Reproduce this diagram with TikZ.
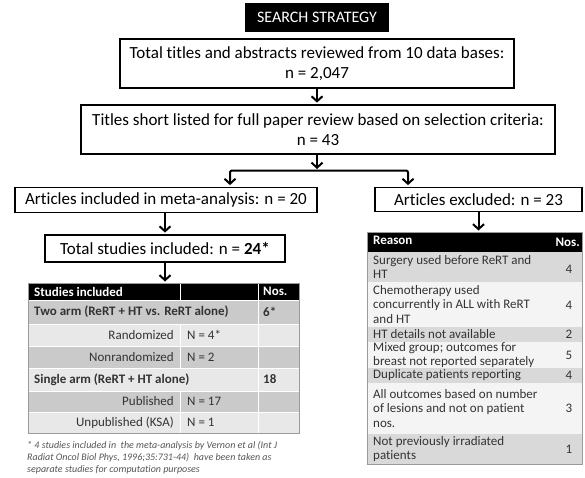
\documentclass[tikz,border=0pt]{standalone}
\usepackage{fontspec}
\setmainfont{Carlito}[Ligatures={NoCommon}]
\usetikzlibrary{arrows.meta}
\definecolor{rowdark}{HTML}{CACACA}
\definecolor{rowlight}{HTML}{E8E8E8}
\definecolor{rgray}{HTML}{D9D9D9}
\definecolor{rwhite}{HTML}{F4F4F4}
\definecolor{txt}{HTML}{333333}
\definecolor{fnote}{HTML}{555555}
\definecolor{tborder}{HTML}{9A9A9A}
\begin{document}
\begin{tikzpicture}[x=1pt,y=-1pt,
  box/.style={draw=black,line width=1.8pt,fill=white,inner sep=0pt,align=center,
    font=\fontsize{17}{20}\selectfont},
  titlebox/.style={fill=black,text=white,inner sep=0pt,minimum width=144pt,minimum height=29pt,
    font=\fontsize{16}{19}\selectfont},
  arr/.style={line width=2pt,-{Straight Barb[length=5pt,width=11pt]},shorten >=1.5pt},
  arrboth/.style={line width=2pt,{Straight Barb[length=5pt,width=11pt]}-{Straight Barb[length=5pt,width=11pt]},
    shorten >=1.5pt,shorten <=1.5pt,rounded corners=2pt},
  tcell/.style={inner sep=0pt,text=txt,font=\fontsize{13}{15}\selectfont},
  tbold/.style={tcell,font=\fontsize{13}{15}\selectfont\bfseries},
  thead/.style={inner sep=0pt,text=white,font=\fontsize{13}{15}\selectfont\bfseries},
  rcell/.style={inner sep=0pt,text=txt,align=left,anchor=west,font=\fontsize{13}{14.8}\selectfont},
  rnum/.style={inner sep=0pt,text=txt,font=\fontsize{13}{15}\selectfont},
  sep/.style={white,line width=1pt}
]
\useasboundingbox (0,0) rectangle (585,477);

% top part
\node[titlebox] (title) at (317,17.5) {SEARCH STRATEGY};
\node[box,minimum width=394pt,minimum height=49pt] (box1) at (317,63.5)
  {Total titles and abstracts reviewed from 10 data bases:\\ n = 2,047};
\node[box,minimum width=474pt,minimum height=49pt] (box2) at (318,129.5)
  {Titles short listed for full paper review based on selection criteria:\\ n = 43};
\node[box,minimum width=302pt,minimum height=25pt] (inc) at (166,200)
  {Articles included in meta-analysis: n = 20};
\node[box,minimum width=207pt,minimum height=24pt] (exc) at (478.5,199.5)
  {Articles excluded: n = 23};
\node[box,minimum width=240pt,minimum height=27pt] (tot) at (165,248.5)
  {Total studies included: n = \textbf{24*}};

\coordinate (jn) at (317,170.5);
\coordinate (jl) at (230,170.5);
\coordinate (jr) at (408,170.5);

\draw[arr] (box1.south) -- (box1.south |- box2.north);
\draw[arr] (box2.south -| jn) -- (jn);
\draw[arrboth] (inc.north -| jl) -- (jl) -- (jr) -- (jr |- exc.north);
\draw[arr] (inc.south -| tot) -- (tot.north);

% ---------- left table ----------
\fill[black] (28,283) rectangle (299,300);
\fill[rowdark] (28,300) rectangle (299,324);
\fill[rowlight] (28,324) rectangle (299,346);
\fill[rowdark] (28,346) rectangle (299,368);
\fill[rowlight] (28,368) rectangle (299,391);
\fill[rowdark] (28,391) rectangle (299,412);
\fill[rowlight] (28,412) rectangle (299,433);
\draw[sep] (258,283) -- (258,433);
\draw[sep] (180,283) -- (180,300);
\draw[sep] (180,324) -- (180,368);
\draw[sep] (180,391) -- (180,433);
\foreach \yy in {300,324,346,368,391,412} \draw[white,line width=0.6pt] (28,\yy) -- (299,\yy);
\node[anchor=north west,minimum width=271pt,minimum height=150pt,inner sep=0pt,
  draw=tborder,line width=0.8pt] (ltab) at (28,283) {};
\draw[arr] (tot.south) -- (tot.south |- ltab.north);

\node[thead,anchor=west] (lh1) at (34,291.5) {Studies included};
\node[thead,anchor=west] (lh3) at (263,291.5) {Nos.};
\node[tbold,anchor=west] (l2a) at (34,312) {Two arm (ReRT + HT vs. ReRT alone)};
\node[tbold,anchor=west] (l2c) at (263,312) {6*};
\node[tcell,anchor=east] (l3a) at (174,335) {Randomized};
\node[tcell,anchor=west] (l3b) at (187,335) {N = 4*};
\node[tcell,anchor=east] (l4a) at (174,357) {Nonrandomized};
\node[tcell,anchor=west] (l4b) at (187,357) {N = 2};
\node[tbold,anchor=west] (l5a) at (34,379.5) {Single arm (ReRT + HT alone)};
\node[tbold,anchor=west] (l5c) at (263,379.5) {18};
\node[tcell,anchor=east] (l6a) at (174,401.5) {Published};
\node[tcell,anchor=west] (l6b) at (187,401.5) {N = 17};
\node[tcell,anchor=east] (l7a) at (174,422.5) {Unpublished (KSA)};
\node[tcell,anchor=west] (l7b) at (187,422.5) {N = 1};

\node[anchor=north west,inner sep=0pt,align=left,text=fnote,
  font=\fontsize{10}{11.8}\selectfont\itshape] (fn) at (27,441)
  {* 4 studies included in \ the meta-analysis by Vernon et al (Int J\\
   Radiat Oncol Biol Phys, 1996;35:731-44) \ have been taken as\\
   separate studies for computation purposes};

% ---------- right table ----------
\fill[black] (367,232) rectangle (582,252);
\fill[rgray] (367,252) rectangle (582,282);
\fill[rwhite] (367,282) rectangle (582,327);
\fill[rgray] (367,327) rectangle (582,342);
\fill[rwhite] (367,342) rectangle (582,368);
\fill[rgray] (367,368) rectangle (582,383);
\fill[rwhite] (367,383) rectangle (582,434);
\fill[rgray] (367,434) rectangle (582,464);
\node[anchor=north west,minimum width=215pt,minimum height=232pt,inner sep=0pt,
  draw=tborder,line width=0.8pt] (rtab) at (367,232) {};
\draw[arr] (exc.south) -- (exc.south |- rtab.north);

\node[thead,anchor=west] (rh1) at (373,240.5) {Reason};
\node[thead,anchor=east] (rh2) at (580,242) {Nos.};
\node[rcell] (r1) at (373,267) {Surgery used before ReRT and\\HT};
\node[rnum] (n1) at (569,269) {4};
\node[rcell] (r2) at (373,304.5) {Chemotherapy used\\concurrently in ALL with ReRT\\and HT};
\node[rnum] (n2) at (569,305) {4};
\node[rcell] (r3) at (373,334.5) {HT details not available};
\node[rnum] (n3) at (569,334.5) {2};
\node[rcell] (r4) at (373,355) {Mixed group; outcomes for\\breast not reported separately};
\node[rnum] (n4) at (569,355) {5};
\node[rcell] (r5) at (373,375.5) {Duplicate patients reporting};
\node[rnum] (n5) at (569,375.5) {4};
\node[rcell] (r6) at (373,408.5) {All outcomes based on number\\of lesions and not on patient\\nos.};
\node[rnum] (n6) at (569,408.5) {3};
\node[rcell] (r7) at (373,449) {Not previously irradiated\\patients};
\node[rnum] (n7) at (569,449) {1};
\end{tikzpicture}
\end{document}
